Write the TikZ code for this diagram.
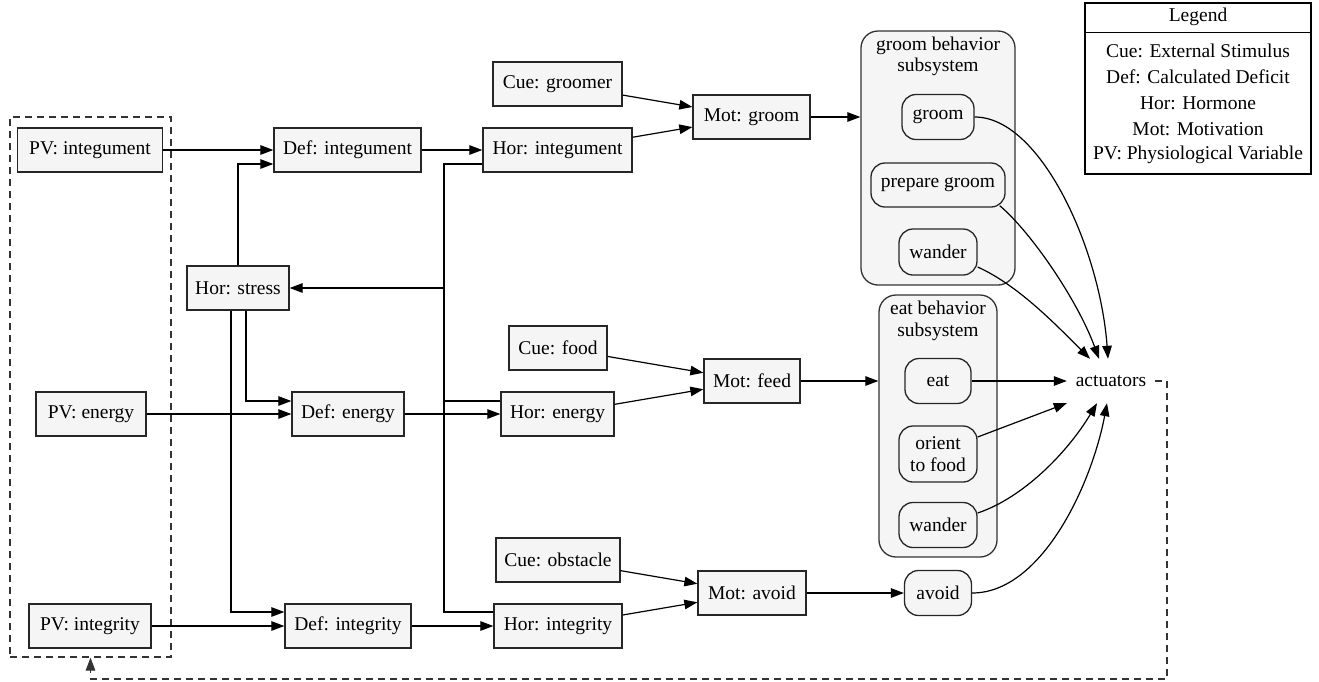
\documentclass[tikz,border=0pt]{standalone}
\usepackage{fontspec}
\setmainfont{Liberation Serif}
\usetikzlibrary{arrows.meta,calc}
\definecolor{boxgray}{HTML}{F5F5F5}
\begin{document}
\begin{tikzpicture}[x=1pt,y=-1pt,
  font=\fontsize{19.5}{21.5}\selectfont,
  box/.style={draw=black!85, fill=boxgray, line width=1.3pt, minimum height=44pt, inner sep=0pt},
  rbox/.style={box, rounded corners=14pt},
  clbox/.style={draw=black!80, fill=boxgray, line width=1.3pt, rounded corners=17pt, inner sep=0pt},
  conn/.style={line width=1.2pt, -{Triangle[length=13pt,width=9.5pt]}},
  plain/.style={line width=1.2pt},
  fbline/.style={conn, dash pattern=on 7pt off 5pt, draw=black!80}
]
\useasboundingbox (0,0) rectangle (1319,681);

% clusters
\node[draw=black!80, dash pattern=on 7pt off 5pt, line width=1.2pt, minimum width=161pt, minimum height=540pt, inner sep=0pt] (pvcl) at (90.5,387) {};
\node[clbox, minimum width=154pt, minimum height=254pt] (gcl) at (938,158) {};
\node[align=center] (gcllab) at (938,56.5) {groom behavior\\subsystem};
\node[clbox, minimum width=118pt, minimum height=262pt] (ecl) at (938,426) {};
\node[align=center] (ecllab) at (938,321) {eat behavior\\subsystem};

% PV
\node[box, minimum width=145pt] (pvint) at (90,150) {PV: integument};
\node[box, minimum width=110pt] (pven) at (91,414) {PV: energy};
\node[box, minimum width=122pt] (pvinteg) at (90,626) {PV: integrity};
% stress
\node[box, minimum width=102pt] (stress) at (238,288) {Hor: stress};
% Def
\node[box, minimum width=147pt] (defint) at (347.5,150) {Def: integument};
\node[box, minimum width=112pt] (defen) at (348,414) {Def: energy};
\node[box, minimum width=126pt] (definteg) at (348,626) {Def: integrity};
% Hor
\node[box, minimum width=149pt] (horint) at (557.5,150) {Hor: integument};
\node[box, minimum width=113pt] (horen) at (557.5,414) {Hor: energy};
\node[box, minimum width=128pt] (horinteg) at (558,626) {Hor: integrity};
% Cue
\node[box, minimum width=129pt] (cuegroomer) at (557.5,84) {Cue: groomer};
\node[box, minimum width=98pt] (cuefood) at (558,348) {Cue: food};
\node[box, minimum width=124pt] (cueobst) at (558,560) {Cue: obstacle};
% Mot
\node[box, minimum width=117pt] (motgroom) at (751.5,117) {Mot: groom};
\node[box, minimum width=96pt] (motfeed) at (752,381) {Mot: feed};
\node[box, minimum width=108pt] (motavoid) at (752,593) {Mot: avoid};
% behaviors
\node[rbox, minimum width=72pt, minimum height=45pt] (groom) at (938,117) {groom};
\node[rbox, minimum width=134pt] (prepgroom) at (938,185) {prepare groom};
\node[rbox, minimum width=78pt, minimum height=46pt] (wanderg) at (938,252) {wander};
\node[rbox, minimum width=66pt, minimum height=45pt] (eat) at (938,381) {eat};
\node[rbox, minimum width=78pt, minimum height=56pt, align=center] (orient) at (938,454) {orient\\to food};
\node[rbox, minimum width=78pt, minimum height=45pt] (wandere) at (938,525) {wander};
\node[rbox, minimum width=67pt, minimum height=45pt] (avoid) at (938,593) {avoid};
\node[minimum width=88pt, minimum height=44pt, inner sep=0pt] (actuators) at (1111,381) {actuators};

% legend
\node[draw, line width=1.2pt, minimum width=226pt, minimum height=171pt, inner sep=0pt] (legend) at (1198,88.5) {};
\draw[line width=1.2pt] ([yshift=-30pt]legend.north west) -- ([yshift=-30pt]legend.north east);
\node (lg0) at (1198,17) {Legend};
\node (lg1) at (1198,51) {Cue: External Stimulus};
\node (lg2) at (1198,77) {Def: Calculated Deficit};
\node (lg3) at (1198,103) {Hor: Hormone};
\node (lg4) at (1198,129) {Mot: Motivation};
\node (lg5) at (1198,155) {PV: Physiological Variable};

% PV -> Def
\draw[conn] (pvint.east) -- (defint.west);
\draw[conn] (pven.east) -- (defen.west);
\draw[conn] (pvinteg.east) -- (definteg.west);
% Def -> Hor
\draw[conn] (defint.east) -- (horint.west);
\draw[conn] (defen.east) -- (horen.west);
\draw[conn] (definteg.east) -- (horinteg.west);
% stress -> Def
\draw[conn] (stress.north) |- ([yshift=-14pt]defint.west);
\draw[conn] ([xshift=8pt]stress.south) |- ([yshift=13pt]defen.west);
\draw[conn] ([xshift=-7pt]stress.south) |- ([yshift=14pt]definteg.west);
% Hor -> stress
\coordinate (bus) at (444,288);
\draw[plain] ([yshift=-14pt]horint.west) -| (bus);
\draw[plain] ([yshift=13pt]horen.west) -| (bus);
\draw[plain] ([yshift=14pt]horinteg.west) -| (bus);
\draw[conn] (bus) -- (bus -| stress.east);
% Cue/Hor -> Mot
\draw[conn] (cuegroomer) -- (motgroom);
\draw[conn] (horint) -- (motgroom);
\draw[conn] (cuefood) -- (motfeed);
\draw[conn] (horen) -- (motfeed);
\draw[conn] (cueobst) -- (motavoid);
\draw[conn] (horinteg) -- (motavoid);
% Mot -> behaviors
\draw[conn] (motgroom.east) -- (motgroom.east -| gcl.west);
\draw[conn] (motfeed.east) -- (motfeed.east -| ecl.west);
\draw[conn] (motavoid.east) -- (avoid.west);
% behaviors -> actuators
\coordinate (a1) at ([xshift=-21pt]actuators.north);
\coordinate (a2) at ([xshift=-12pt]actuators.north);
\coordinate (a3) at ([xshift=-3pt]actuators.north);
\coordinate (b2) at ([xshift=-14pt]actuators.south);
\coordinate (b3) at ([xshift=-4pt]actuators.south);
\draw[conn] (groom.east) .. controls +(66,0) and +(-8,-110) .. (a3);
\draw[conn] ([shift={(-6pt,2pt)}]prepgroom.south east) .. controls +(30,25) and +(-22,-60) .. (a2);
\draw[conn] ([yshift=-15pt]wanderg.east) .. controls +(40,18) and +(-35,-35) .. (a1);
\draw[conn] (eat.east) -- (actuators.west);
\draw[conn] ([yshift=17pt]orient.east) -- (actuators.south west);
\draw[conn] ([yshift=12pt]wandere.east) .. controls +(45,-15) and +(-30,50) .. (b2);
\draw[conn] (avoid.east) .. controls +(70,0) and +(-15,80) .. (b3);
% feedback
\coordinate (fb) at (1167,679);
\draw[fbline] (actuators.east) -| (fb) -| (pvcl.south);
\end{tikzpicture}
\end{document}
